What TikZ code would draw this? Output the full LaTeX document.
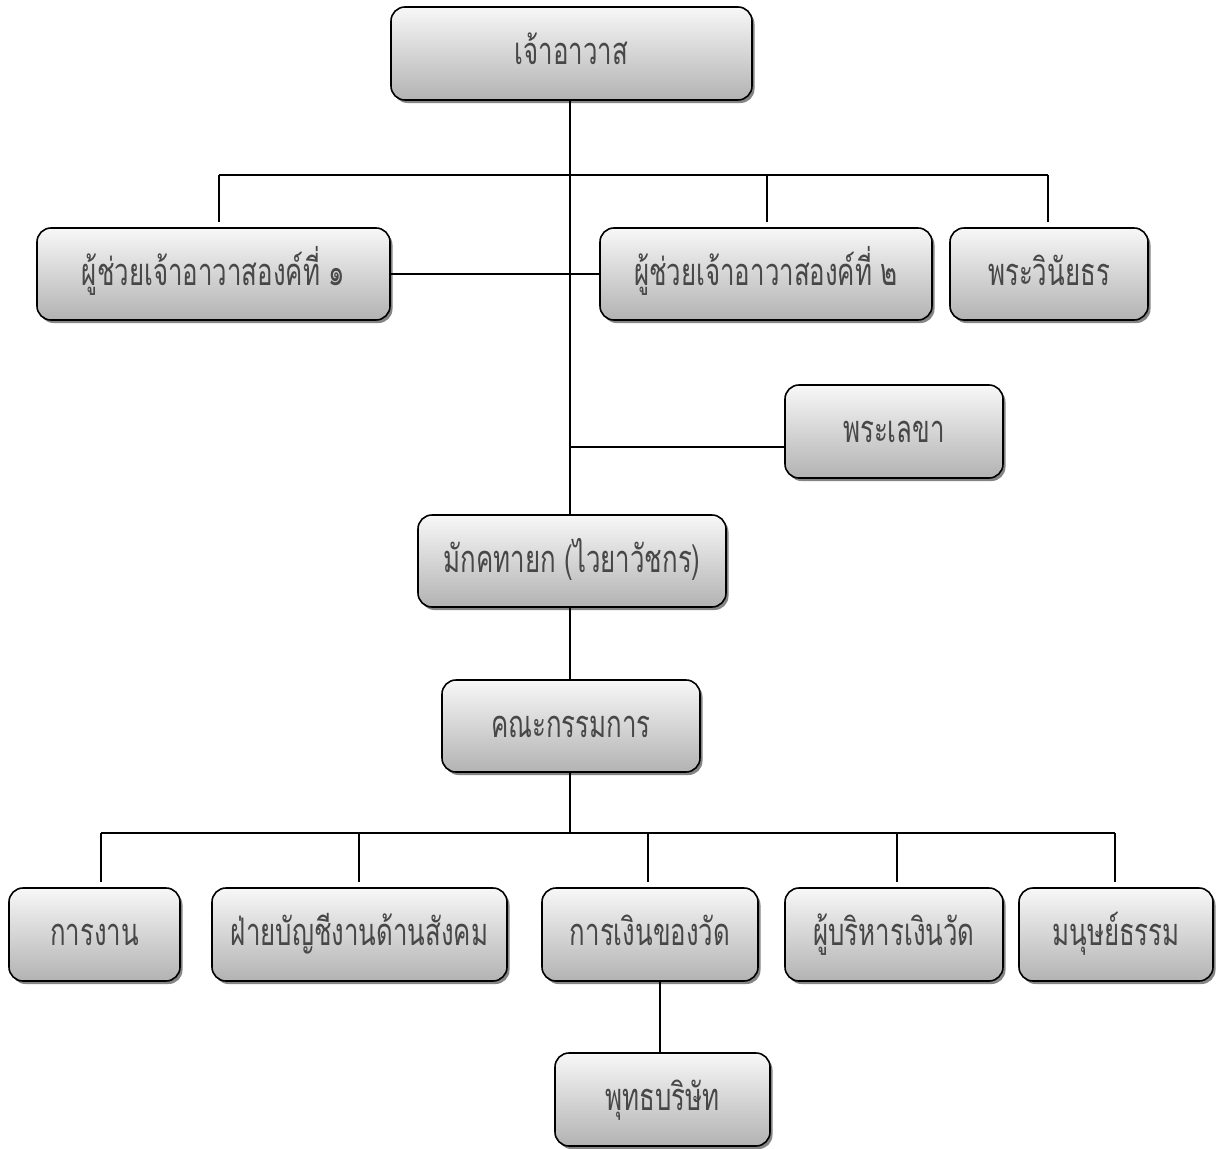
\documentclass[tikz,border=0pt]{standalone}
\usepackage{fontspec}
\newfontfamily\thaifont[Script=Thai,FakeStretch=0.68]{Loma}
\usetikzlibrary{shadows}
\tikzset{
  orgbox/.style={draw=black, line width=1.6pt, rounded corners=14pt,
    top color=black!3, bottom color=black!30,
    drop shadow={shadow xshift=2.5pt, shadow yshift=-3pt, fill=black!60, opacity=0.8},
    inner sep=0pt, text height=30pt, text depth=8pt,
    font=\thaifont\fontsize{38}{44}\selectfont, text=black!72},
  link/.style={line width=1.6pt, draw=black}
}
\begin{document}
\begin{tikzpicture}[x=1pt,y=-1pt]
\useasboundingbox (0,0) rectangle (1217,1148);
% boxes
\node[orgbox, minimum width=361pt, minimum height=93pt] (top) at (571.5,53.5) {เจ้าอาวาส};
\node[orgbox, minimum width=353pt, minimum height=92pt] (a1) at (213.5,274) {ผู้ช่วยเจ้าอาวาสองค์ที่ ๑};
\node[orgbox, minimum width=332pt, minimum height=92pt] (a2) at (766,274) {ผู้ช่วยเจ้าอาวาสองค์ที่ ๒};
\node[orgbox, minimum width=198pt, minimum height=92pt] (vin) at (1049,274) {พระวินัยธร};
\node[orgbox, minimum width=218pt, minimum height=93pt] (lek) at (894,431.5) {พระเลขา};
\node[orgbox, minimum width=308pt, minimum height=92pt] (mak) at (572,561) {มักคทายก (ไวยาวัชกร)};
\node[orgbox, minimum width=258pt, minimum height=92pt] (kana) at (571,726) {คณะกรรมการ};
\node[orgbox, minimum width=171pt, minimum height=93pt] (k1) at (94.5,934.5) {การงาน};
\node[orgbox, minimum width=295pt, minimum height=93pt] (k2) at (359.5,934.5) {ฝ่ายบัญชีงานด้านสังคม};
\node[orgbox, minimum width=216pt, minimum height=93pt] (k3) at (650,934.5) {การเงินของวัด};
\node[orgbox, minimum width=218pt, minimum height=93pt] (k4) at (894,934.5) {ผู้บริหารเงินวัด};
\node[orgbox, minimum width=194pt, minimum height=93pt] (k5) at (1116,934.5) {มนุษย์ธรรม};
\node[orgbox, minimum width=215pt, minimum height=93pt] (put) at (662.5,1099.5) {พุทธบริษัท};
% junction coordinates
\coordinate (h1) at (570,175);
\coordinate (h1l) at (219,175);
\coordinate (h1r) at (1048,175);
\coordinate (d1) at (219,222);
\coordinate (d2) at (767,175);
\coordinate (d2e) at (767,222);
\coordinate (d3) at (1048,222);
\coordinate (hl) at (570,447);
\coordinate (h2) at (570,833);
\coordinate (h2l) at (101,833);
\coordinate (h2r) at (1115,833);
\coordinate (e1) at (101,882);
\coordinate (f2) at (359,833);
\coordinate (e2) at (359,882);
\coordinate (f3) at (648,833);
\coordinate (e3) at (648,882);
\coordinate (f4) at (897,833);
\coordinate (e4) at (897,882);
\coordinate (e5) at (1115,882);
% connectors
\draw[link] (top.south -| h1) -- (mak.north -| h1);
\draw[link] (h1l) -- (h1r);
\draw[link] (h1l) -- (d1);
\draw[link] (d2) -- (d2e);
\draw[link] (h1r) -- (d3);
\draw[link] (a1.east) -- (a2.west);
\draw[link] (hl) -- (lek.west |- hl);
\draw[link] (mak.south -| h1) -- (kana.north -| h1);
\draw[link] (kana.south -| h2) -- (h2);
\draw[link] (h2l) -- (h2r);
\draw[link] (h2l) -- (e1);
\draw[link] (f2) -- (e2);
\draw[link] (f3) -- (e3);
\draw[link] (f4) -- (e4);
\draw[link] (h2r) -- (e5);
\draw[link] (k3.south -| put.north) ++(-2.5,0) coordinate (pa) -- (put.north -| pa);
\end{tikzpicture}
\end{document}
